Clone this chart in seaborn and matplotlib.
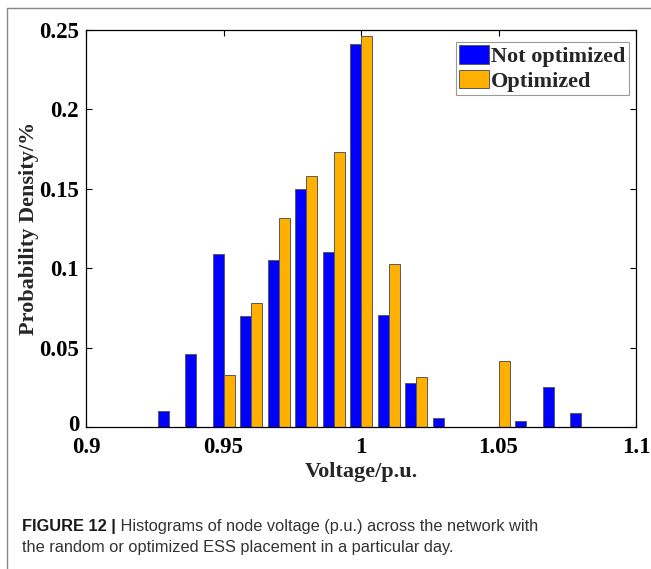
import numpy as np
import pandas as pd
import matplotlib
matplotlib.use("Agg")
import matplotlib.pyplot as plt
import matplotlib.transforms as mtransforms
from matplotlib.lines import Line2D
from matplotlib.patches import Patch
import seaborn as sns

# ---- data ----
voltage = [0.93, 0.94, 0.95, 0.96, 0.97, 0.98, 0.99, 1.00,
           1.01, 1.02, 1.03, 1.04, 1.05, 1.06, 1.07, 1.08]
not_optimized = [0.0103, 0.0458, 0.1087, 0.0697, 0.1050, 0.1500, 0.1100, 0.2412,
                 0.0707, 0.0279, 0.0055, 0.0, 0.0, 0.0040, 0.0254, 0.0090]
optimized = [0.0, 0.0, 0.0327, 0.0783, 0.1314, 0.1578, 0.1730, 0.2462,
             0.1024, 0.0317, 0.0, 0.0, 0.0418, 0.0, 0.0, 0.0]
series_names = ["Not optimized", "Optimized"]
series_colors = ["#0000FF", "#FFB000"]
x_ticks = [0.9, 0.95, 1.0, 1.05, 1.1]
x_tick_labels = ["0.9", "0.95", "1", "1.05", "1.1"]
y_ticks = [0, 0.05, 0.1, 0.15, 0.2, 0.25]
y_tick_labels = ["0", "0.05", "0.1", "0.15", "0.2", "0.25"]
caption_bold = "FIGURE 12 |"
caption_rest_1 = " Histograms of node voltage (p.u.) across the network with"
caption_line_2 = "the random or optimized ESS placement in a particular day."

df = pd.DataFrame({
    "voltage": voltage * 2,
    "density": not_optimized + optimized,
    "series": [series_names[0]] * len(voltage) + [series_names[1]] * len(voltage),
})

sns.set_theme(style="white")
plt.rcParams["font.family"] = ["Liberation Serif", "DejaVu Serif"]
plt.rcParams["font.weight"] = "bold"

W, H = 651, 569
fig = plt.figure(figsize=(W / 100, H / 100), dpi=100)
ax = fig.add_axes([86 / W, 1 - 427 / H, 550 / W, 397 / H])

sns.barplot(data=df, x="voltage", y="density", hue="series",
            hue_order=series_names, palette=series_colors,
            native_scale=True, width=0.8, dodge=True, errorbar=None,
            edgecolor="#5a5a5a", linewidth=0.7, saturation=1.0,
            legend=False, ax=ax)

ax.set_xlim(0.9, 1.1)
ax.set_ylim(0, 0.25)
ax.set_xticks(x_ticks)
ax.set_xticklabels(x_tick_labels, fontsize=16.5, fontweight="bold")
ax.set_yticks(y_ticks)
ax.set_yticklabels(y_tick_labels, fontsize=16.5, fontweight="bold")
ax.tick_params(direction="in", length=4, width=0.8, top=True, right=True,
               bottom=True, left=True, colors="black")
ax.tick_params(axis="x", pad=7)
ax.tick_params(axis="y", pad=5)
# nudge the "0" y tick label up a little, as in the reference
zero_lab = ax.get_yticklabels()[0]
zero_lab.set_transform(zero_lab.get_transform() +
                       mtransforms.ScaledTranslation(0, 4 / 100, fig.dpi_scale_trans))
for s in ax.spines.values():
    s.set_visible(True)
    s.set_color("black")
    s.set_linewidth(0.9)
ax.set_xlabel("Voltage/p.u.", fontsize=16, fontweight="bold", labelpad=3)
ax.set_ylabel("Probability Density/%", fontsize=16, fontweight="bold", labelpad=0)
ax.grid(False)

handles = [Patch(facecolor=c, edgecolor="#5a5a5a", linewidth=0.7) for c in series_colors]
leg = ax.legend(handles, series_names, loc="upper right",
                bbox_to_anchor=(629 / W, 1 - 42 / H), bbox_transform=fig.transFigure,
                borderaxespad=0, fancybox=False, frameon=True, framealpha=1,
                edgecolor="#999999", handlelength=1.35, handleheight=0.9,
                handletextpad=0.1, borderpad=0.15, labelspacing=0.12,
                prop={"family": "Liberation Serif", "weight": "bold", "size": 16})
leg.get_frame().set_linewidth(0.8)

# outer frame (top and left lines)
fig.add_artist(Line2D([7 / W, 1.0], [1 - 8 / H, 1 - 8 / H], transform=fig.transFigure,
                      color="#888888", linewidth=1.0))
fig.add_artist(Line2D([7 / W, 7 / W], [1 - 8 / H, 0.0], transform=fig.transFigure,
                      color="#888888", linewidth=1.0))

cap_font = ["Liberation Sans", "DejaVu Sans"]
t1 = fig.text(22 / W, 1 - 531 / H, caption_bold, family=cap_font, weight="bold",
              fontsize=11.8, color="#1a1a1a", va="baseline", ha="left")
ax.annotate(caption_rest_1, xy=(1, 0), xycoords=t1, xytext=(0, 0),
            textcoords="offset points", family=cap_font, weight="normal",
            fontsize=11.8, color="#333333", va="bottom", ha="left",
            annotation_clip=False)
fig.text(22 / W, 1 - 552 / H, caption_line_2, family=cap_font, weight="normal",
         fontsize=11.8, color="#333333", va="baseline", ha="left")

fig.savefig("out.png", dpi=100)
